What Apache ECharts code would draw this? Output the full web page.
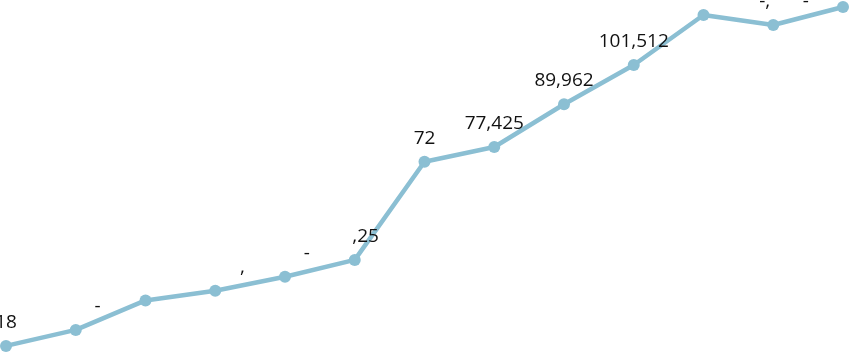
<!DOCTYPE html>
<html>
<head>
<meta charset="utf-8">
<script src="https://cdn.jsdelivr.net/npm/echarts@6/dist/echarts.min.js"></script>
<style>html,body{margin:0;padding:0;background:#fff;}#c{width:850px;height:353px;}</style>
</head>
<body>
<div id="c"></div>
<script>
// Data
var categories = ['1','2','3','4','5','6','7','8','9','10','11','12','13'];
var values = [18980, 23680, 32350, 35200, 39300, 44253, 73100, 77425, 89962, 101512, 116200, 113250, 118550];
// Visible label text ('_' = a masked digit that is not shown)
var labelTexts = ['18', '____-', '', '_____,', '____-', '__,25', '72', '77,425', '89,962', '101,512', '', '__-,___-', ''];

function toRich(t) {
  if (!t) return '';
  var out = '', buf = '', hidden = null;
  for (var i = 0; i < t.length; i++) {
    var h = t[i] === '_';
    if (hidden !== null && h !== hidden) {
      out += '{' + (hidden ? 'h' : 'v') + '|' + buf + '}';
      buf = '';
    }
    hidden = h;
    buf += h ? '0' : t[i];
  }
  if (buf) out += '{' + (hidden ? 'h' : 'v') + '|' + buf + '}';
  return out;
}

var chart = echarts.init(document.getElementById('c'), null, {renderer: 'canvas'});
chart.setOption({
  animation: false,
  grid: {left: 6, right: 7, top: 0, bottom: 0},
  xAxis: {type: 'category', data: categories, boundaryGap: false, show: false},
  yAxis: {type: 'value', min: 16900, max: 120600, show: false},
  series: [{
    type: 'line',
    data: values,
    symbol: 'circle',
    symbolSize: 12,
    lineStyle: {color: '#8bbfd3', width: 4.5},
    itemStyle: {color: '#8bbfd3'},
    label: {
      show: true,
      position: 'top',
      distance: 8,
      formatter: function (p) { return toRich(labelTexts[p.dataIndex]); },
      rich: {
        v: {fontFamily: 'Open Sans', fontSize: 19, color: '#111'},
        h: {fontFamily: 'Open Sans', fontSize: 19, color: 'transparent'}
      }
    }
  }]
});
</script>
</body>
</html>
